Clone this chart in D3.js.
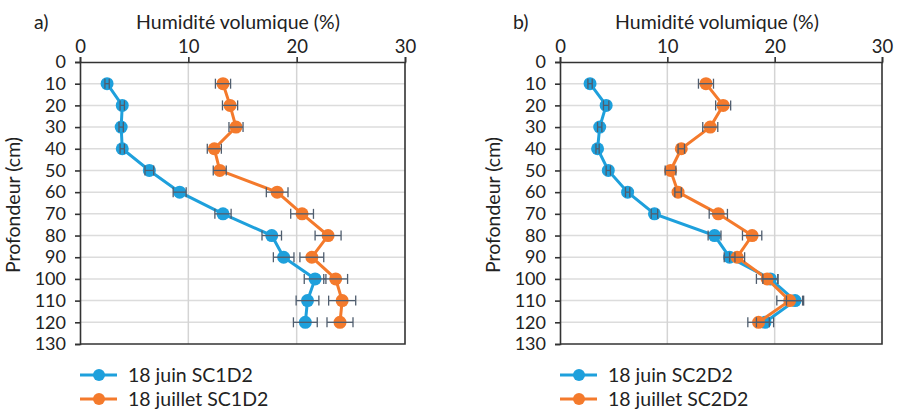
<!DOCTYPE html>
<html>
<head>
<meta charset="utf-8">
<script src="https://cdn.jsdelivr.net/npm/d3@7"></script>
<style>
  body { margin: 0; background: #fff; }
  text { font-family: Lato, "Open Sans", sans-serif; fill: #222; }
</style>
</head>
<body>
<div id="chart"></div>
<script>
const depths = [10, 20, 30, 40, 50, 60, 70, 80, 90, 100, 110, 120]
const xTicks = [0, 10, 20, 30]
const yTicks = [0, 10, 20, 30, 40, 50, 60, 70, 80, 90, 100, 110, 120, 130]

// panel a) SC1D2
const juinSC1D2 = [2.5, 3.9, 3.8, 3.9, 6.4, 9.2, 13.2, 17.7, 18.8, 21.7, 21.0, 20.8]
const juinSC1D2Err = [0.2, 0.2, 0.2, 0.2, 0.4, 0.6, 0.75, 0.9, 0.95, 1.0, 1.05, 1.1]
const juilletSC1D2 = [13.2, 13.85, 14.4, 12.4, 12.9, 18.2, 20.5, 22.9, 21.4, 23.6, 24.2, 24.0]
const juilletSC1D2Err = [0.7, 0.7, 0.65, 0.65, 0.6, 1.0, 1.05, 1.2, 1.1, 1.1, 1.25, 1.2]

// panel b) SC2D2
const juinSC2D2 = [2.8, 4.3, 3.7, 3.5, 4.5, 6.3, 8.8, 14.4, 15.8, 19.6, 21.9, 19.1]
const juinSC2D2Err = [0.2, 0.25, 0.2, 0.15, 0.2, 0.2, 0.3, 0.6, 0.5, 0.7, 0.8, 0.8]
const juilletSC2D2 = [13.6, 15.2, 14.0, 11.3, 10.3, 11.0, 14.75, 17.9, 16.5, 19.3, 21.4, 18.5]
const juilletSC2D2Err = [0.7, 0.7, 0.7, 0.3, 0.5, 0.3, 0.85, 0.9, 0.7, 1.0, 1.2, 1.0]

const blue = "#1ea0dc"
const orange = "#f47a2c"
const errColor = "#4f5d6e"

const width = 897
const height = 410

const svg = d3
  .create("svg")
  .attr("viewBox", [0, 0, width, height])
  .attr("width", width)
  .attr("height", height)

const drawPanel = ({ left, right, label, labelX, titleX, series }) => {
  const top = 62
  const bottom = 344
  const x = d3.scaleLinear().domain([0, 30]).range([left, right])
  const y = d3.scaleLinear().domain([0, 130]).range([top, bottom])
  const g = svg.append("g")

  // grid
  g.append("g")
    .selectAll("line")
    .data(yTicks.slice(1, -1))
    .join("line")
    .attr("x1", left)
    .attr("x2", right)
    .attr("y1", d => y(d))
    .attr("y2", d => y(d))
    .attr("stroke", "#dcdcdc")
    .attr("stroke-width", 1.5)
  g.append("g")
    .selectAll("line")
    .data(xTicks.slice(1, -1))
    .join("line")
    .attr("x1", d => x(d))
    .attr("x2", d => x(d))
    .attr("y1", top)
    .attr("y2", bottom)
    .attr("stroke", "#d4d4d4")
    .attr("stroke-width", 1.5)

  // axes
  const xAxis = d3.axisTop(x).tickValues(xTicks).tickSize(5).tickPadding(4)
  const yAxis = d3.axisLeft(y).tickValues(yTicks).tickSize(5).tickPadding(9)
  g.append("g")
    .attr("transform", `translate(0, ${top})`)
    .call(xAxis)
    .call(a => a.selectAll("text").attr("font-size", 18.5).attr("font-family", "Lato"))
    .call(a => a.selectAll("line,path").attr("stroke", "#333").attr("stroke-width", 1.6))
  g.append("g")
    .attr("transform", `translate(${left}, 0)`)
    .call(yAxis)
    .call(a => a.selectAll("text").attr("font-size", 18).attr("font-family", "Lato"))
    .call(a => a.selectAll("line,path").attr("stroke", "#333").attr("stroke-width", 1.6))

  // frame: bottom and right
  g.append("path")
    .attr("d", `M${left},${bottom}H${right}V${top}`)
    .attr("fill", "none")
    .attr("stroke", "#333")
    .attr("stroke-width", 1.6)

  // titles
  g.append("text")
    .attr("x", titleX)
    .attr("y", 29)
    .attr("text-anchor", "middle")
    .attr("font-size", 19.5)
    .text("Humidité volumique (%)")
  g.append("text")
    .attr("x", labelX)
    .attr("y", 29)
    .attr("font-size", 19.5)
    .text(label)
  g.append("text")
    .attr("transform", `translate(${left - 60}, ${(top + bottom) / 2 + 2}) rotate(-90)`)
    .attr("text-anchor", "middle")
    .attr("font-size", 19.5)
    .text("Profondeur (cm)")

  const line = d3
    .line()
    .x(d => x(d.v))
    .y(d => y(d.depth))

  series.forEach(s => {
    const pts = depths.map((depth, i) => ({ depth, v: s.values[i], e: s.err[i] }))
    g.append("path")
      .datum(pts)
      .attr("d", line)
      .attr("fill", "none")
      .attr("stroke", s.color)
      .attr("stroke-width", 3)
    g.append("g")
      .selectAll("circle")
      .data(pts)
      .join("circle")
      .attr("cx", d => x(d.v))
      .attr("cy", d => y(d.depth))
      .attr("r", 6.5)
      .attr("fill", s.color)
  })

  // error bars on top
  series.forEach(s => {
    const pts = depths.map((depth, i) => ({ depth, v: s.values[i], e: s.err[i] }))
    const eb = g.append("g")
      .attr("stroke", errColor)
      .attr("stroke-width", 1.3)
      .selectAll("g")
      .data(pts)
      .join("g")
    eb.append("line")
      .attr("x1", d => x(d.v - d.e))
      .attr("x2", d => x(d.v + d.e))
      .attr("y1", d => y(d.depth))
      .attr("y2", d => y(d.depth))
    eb.append("line")
      .attr("x1", d => x(d.v - d.e))
      .attr("x2", d => x(d.v - d.e))
      .attr("y1", d => y(d.depth) - 5)
      .attr("y2", d => y(d.depth) + 5)
    eb.append("line")
      .attr("x1", d => x(d.v + d.e))
      .attr("x2", d => x(d.v + d.e))
      .attr("y1", d => y(d.depth) - 5)
      .attr("y2", d => y(d.depth) + 5)
  })

  // legend
  const lg = g.append("g")
    .selectAll("g")
    .data(series)
    .join("g")
    .attr("transform", (d, i) => `translate(${left}, ${375 + i * 24})`)
  lg.append("line")
    .attr("x1", 0)
    .attr("x2", 37)
    .attr("stroke", d => d.color)
    .attr("stroke-width", 3)
  lg.append("circle")
    .attr("cx", 19)
    .attr("r", 6)
    .attr("fill", d => d.color)
  lg.append("text")
    .attr("x", 48)
    .attr("dy", "0.35em")
    .attr("font-size", 19.5)
    .text(d => d.name)
}

drawPanel({
  left: 80,
  right: 405,
  label: "a)",
  labelX: 34,
  titleX: 238,
  series: [
    { name: "18 juin SC1D2", values: juinSC1D2, err: juinSC1D2Err, color: blue },
    { name: "18 juillet SC1D2", values: juilletSC1D2, err: juilletSC1D2Err, color: orange }
  ]
})

drawPanel({
  left: 560,
  right: 882,
  label: "b)",
  labelX: 513,
  titleX: 717,
  series: [
    { name: "18 juin SC2D2", values: juinSC2D2, err: juinSC2D2Err, color: blue },
    { name: "18 juillet SC2D2", values: juilletSC2D2, err: juilletSC2D2Err, color: orange }
  ]
})

document.querySelector("#chart").append(svg.node())
</script>
</body>
</html>
